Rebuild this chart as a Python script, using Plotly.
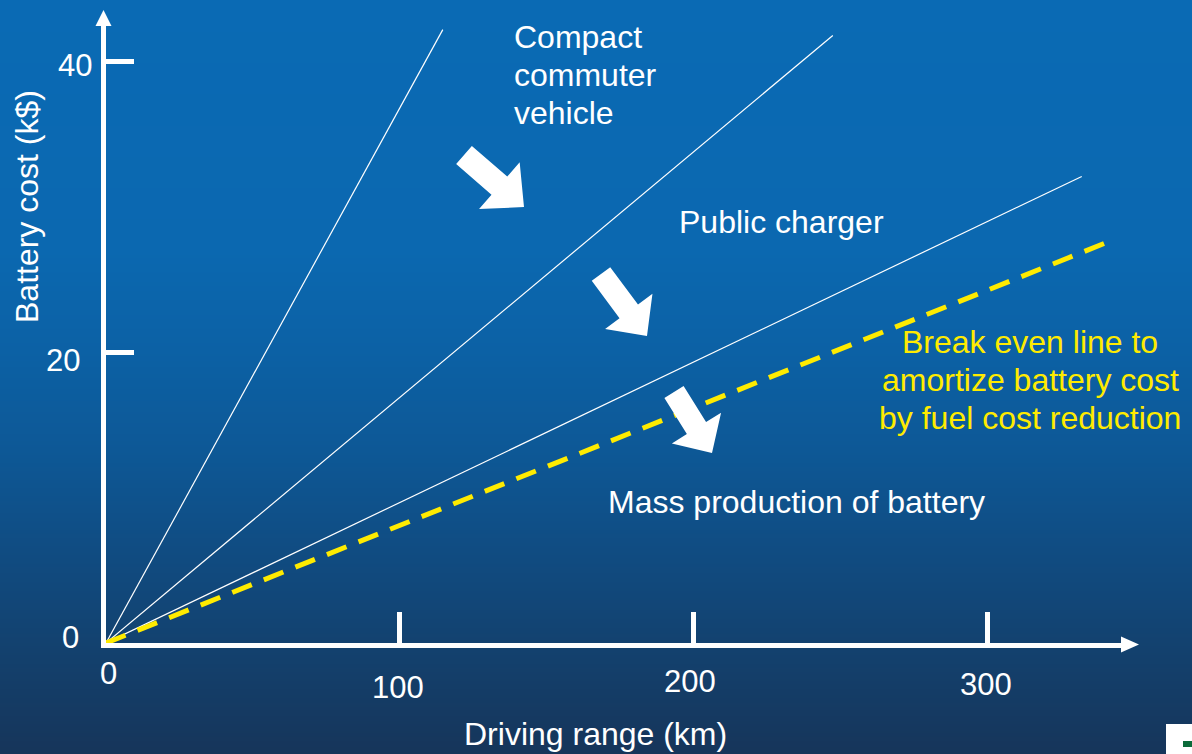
import base64
import math
import struct
import zlib

import plotly.graph_objects as go

# ---- data -------------------------------------------------------------
# Each cost line starts at the origin and runs to its end point (km, k$).
range_current = [0, 114.6]
cost_current = [0, 42.2]

range_compact = [0, 247.3]
cost_compact = [0, 41.8]

range_public = [0, 332.0]
cost_public = [0, 32.1]

range_breakeven = [0, 343.5]
cost_breakeven = [0, 27.8]

x_ticks = [100, 200, 300]
x_tick_labels = ["0", "100", "200", "300"]
x_label_values = [0, 100, 200, 300]
y_ticks = [20, 40]
y_tick_labels = ["0", "20", "40"]
y_label_values = [0, 20, 40]

# ---- canvas geometry ----------------------------------------------------
W, H = 1192, 754
L, R, T, B = 106, 70, 26, 111
PW, PH = W - L - R, H - T - B
X_MAX, Y_MAX = 345.7, 42.45

FONT = "Arial, Liberation Sans, sans-serif"
WHITE = "#ffffff"
YELLOW = "#FFEB00"


def px(xp):
    """Horizontal pixel -> paper fraction."""
    return (xp - L) / PW


def py(yp):
    """Vertical pixel (from top) -> paper fraction."""
    return (H - B - yp) / PH


def gradient_uri(stops, height, width=4):
    rows = []
    for y in range(height):
        for (y0, c0), (y1, c1) in zip(stops, stops[1:]):
            if y0 <= y <= y1:
                t = (y - y0) / (y1 - y0)
                rgb = [round(a + (b - a) * t) for a, b in zip(c0, c1)]
                break
        rows.append(b"\x00" + bytes(rgb) * width)
    raw = b"".join(rows)

    def chunk(tag, data):
        body = tag + data
        return struct.pack(">I", len(data)) + body + struct.pack(">I", zlib.crc32(body) & 0xFFFFFFFF)

    png = (b"\x89PNG\r\n\x1a\n"
           + chunk(b"IHDR", struct.pack(">IIBBBBB", width, height, 8, 2, 0, 0, 0))
           + chunk(b"IDAT", zlib.compress(raw, 9))
           + chunk(b"IEND", b""))
    return "data:image/png;base64," + base64.b64encode(png).decode()


bg_stops = [
    (0, (10, 106, 180)),
    (250, (11, 104, 176)),
    (350, (12, 97, 165)),
    (450, (13, 88, 150)),
    (550, (16, 76, 130)),
    (650, (19, 65, 110)),
    (754, (22, 53, 90)),
]


def block_arrow(tail, tip, shaft_w, head_w, head_len):
    dx, dy = tip[0] - tail[0], tip[1] - tail[1]
    n = math.hypot(dx, dy)
    ux, uy = dx / n, dy / n
    nx, ny = -uy, ux
    bx, by = tip[0] - ux * head_len, tip[1] - uy * head_len
    pts = [
        (tail[0] + nx * shaft_w / 2, tail[1] + ny * shaft_w / 2),
        (bx + nx * shaft_w / 2, by + ny * shaft_w / 2),
        (bx + nx * head_w / 2, by + ny * head_w / 2),
        tip,
        (bx - nx * head_w / 2, by - ny * head_w / 2),
        (bx - nx * shaft_w / 2, by - ny * shaft_w / 2),
        (tail[0] - nx * shaft_w / 2, tail[1] - ny * shaft_w / 2),
    ]
    path = "M " + " L ".join(f"{px(a):.5f},{py(b):.5f}" for a, b in pts) + " Z"
    return dict(type="path", path=path, xref="paper", yref="paper",
                fillcolor=WHITE, line=dict(width=0), layer="above")


fig = go.Figure()

for xs, ys in [(range_current, cost_current),
               (range_compact, cost_compact),
               (range_public, cost_public)]:
    fig.add_trace(go.Scatter(x=xs, y=ys, mode="lines",
                             line=dict(color=WHITE, width=1.2),
                             hoverinfo="skip", showlegend=False))

fig.add_trace(go.Scatter(x=range_breakeven, y=cost_breakeven, mode="lines",
                         line=dict(color=YELLOW, width=5, dash="21px,13px"),
                         hoverinfo="skip", showlegend=False))

shapes = [
    # axis arrowheads
    dict(type="path", xref="paper", yref="paper",
         path=f"M {px(95.5)},{py(26)} L {px(103.5)},{py(10)} L {px(111.5)},{py(26)} Z",
         fillcolor=WHITE, line=dict(width=0)),
    dict(type="path", xref="paper", yref="paper",
         path=f"M {px(1121)},{py(636.5)} L {px(1139)},{py(644.5)} L {px(1121)},{py(652.5)} Z",
         fillcolor=WHITE, line=dict(width=0)),
    # trend arrows
    block_arrow((464, 155), (524, 207), 24, 62, 32.6),
    block_arrow((601, 274), (647, 336), 23, 59, 30.6),
    block_arrow((674, 392), (712, 453), 22.6, 58, 29.4),
    # corner badge
    dict(type="rect", xref="paper", yref="paper",
         x0=px(1166), x1=px(1192), y0=py(754), y1=py(724),
         fillcolor=WHITE, line=dict(width=0)),
    dict(type="rect", xref="paper", yref="paper",
         x0=px(1183), x1=px(1192), y0=py(747), y1=py(741),
         fillcolor="#0b6b3a", line=dict(width=0)),
]

annotations = []


def text(s, x, y, color=WHITE, size=32, xanchor="left", angle=0):
    annotations.append(dict(text=s, x=px(x), y=py(y), xref="paper", yref="paper",
                            xanchor=xanchor, yanchor="middle", showarrow=False,
                            textangle=angle,
                            font=dict(family=FONT, size=size, color=color)))


# baselines minus ~11 px give the line centres
text("Compact", 512, 37)
text("commuter", 512, 75)
text("vehicle", 512, 113)
text("Public charger", 677, 222)
text("Mass production of battery", 606, 502)
text("Break even line to", 1030, 342, color=YELLOW, xanchor="center")
text("amortize battery cost", 1030, 380, color=YELLOW, xanchor="center")
text("by fuel cost reduction", 1030, 418, color=YELLOW, xanchor="center")
text("Driving range (km)", 595, 734, xanchor="center")
text("Battery cost (k$)", 27, 207, xanchor="center", angle=-90)

# tick labels sit slightly off the tick positions
x_label_pos = [(108, 673), (398, 687), (690, 681), (985.5, 684)]
for lab, (lx, ly) in zip(x_tick_labels, x_label_pos):
    text(lab, lx, ly, size=31, xanchor="center")
y_label_pos = [(70, 637), (63, 361), (75, 65)]
for lab, (lx, ly) in zip(y_tick_labels, y_label_pos):
    text(lab, lx, ly, size=31, xanchor="center")

fig.update_layout(
    width=W, height=H,
    margin=dict(l=L, r=R, t=T, b=B, pad=0),
    paper_bgcolor="#0f4f8a",
    plot_bgcolor="rgba(0,0,0,0)",
    showlegend=False,
    shapes=shapes,
    annotations=annotations,
    images=[dict(source=gradient_uri(bg_stops, H), xref="paper", yref="paper",
                 x=px(0), y=py(0), sizex=px(W) - px(0), sizey=py(0) - py(H),
                 xanchor="left", yanchor="top", sizing="stretch", layer="below")],
    xaxis=dict(range=[0, X_MAX], showline=True, linewidth=5, linecolor=WHITE,
               ticks="inside", tickvals=x_ticks, ticklen=31, tickwidth=5,
               tickcolor=WHITE, showticklabels=False, showgrid=False,
               zeroline=False, fixedrange=True),
    yaxis=dict(range=[0, Y_MAX], showline=True, linewidth=5, linecolor=WHITE,
               ticks="inside", tickvals=y_ticks, ticklen=28, tickwidth=5,
               tickcolor=WHITE, showticklabels=False, showgrid=False,
               zeroline=False, fixedrange=True),
)

fig.write_html("out.html", config=dict(displayModeBar=False))
